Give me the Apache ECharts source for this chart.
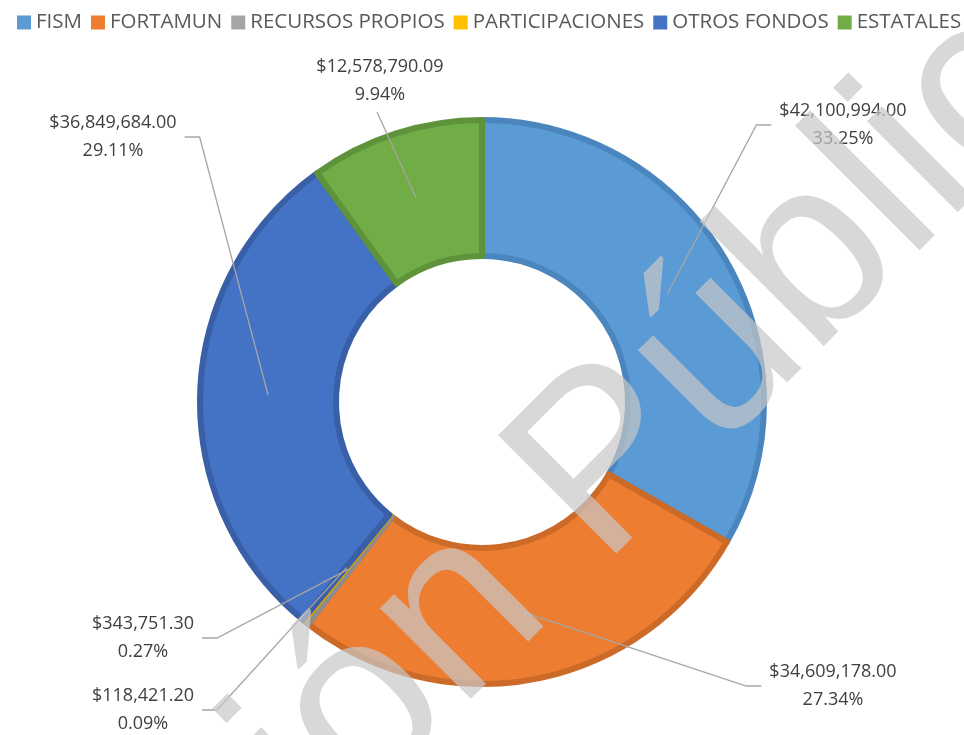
<!DOCTYPE html>
<html><head><meta charset="utf-8">
<script src="https://cdn.jsdelivr.net/npm/echarts@6/dist/echarts.min.js"></script>
<style>html,body{margin:0;padding:0;background:#fff}#c{width:964px;height:735px}</style>
</head><body><div id="c"></div>
<script>
// ---- data ----
const categories = ['FISM', 'FORTAMUN', 'RECURSOS PROPIOS', 'PARTICIPACIONES', 'OTROS FONDOS', 'ESTATALES'];
const values = [42100994.00, 34609178.00, 343751.30, 118421.20, 36849684.00, 12578790.09];
const watermarkText = 'Información Pública';

// ---- styles / layout ----
const fillColors = ['#5B9BD5', '#ED7D31', '#A5A5A5', '#FFC000', '#4472C4', '#70AD47'];
const borderColors = ['#4A86BD', '#CC6A27', '#8C8C8C', '#D9A300', '#395FA6', '#5E933B'];
const labelCenters = [[843, 125], [833, 686], [143, 638], [143, 710], [113, 137], [380, 81]];
const labelSides = ['left', 'left', 'right', 'right', 'right', 'bottom'];
const CX = 482, CY = 402, R_IN = 143, R_OUT = 285, BW = 6;
const R_MID = (R_IN + R_OUT) / 2;

const total = values.reduce((a, b) => a + b, 0);
const midAngles = [];
{ let acc = 0; values.forEach(v => { midAngles.push((acc + v / 2) / total * 2 * Math.PI); acc += v; }); }

function money(v) {
  return '$' + v.toLocaleString('en-US', { minimumFractionDigits: 2, maximumFractionDigits: 2 });
}

const pieCommon = {
  type: 'pie',
  center: [CX, CY],
  radius: [R_IN + BW / 2, R_OUT - BW / 2],
  startAngle: 90,
  clockwise: true,
  avoidLabelOverlap: false,
  emphasis: { disabled: true }
};

const chart = echarts.init(document.getElementById('c'), null, { renderer: 'canvas' });
chart.setOption({
  animation: false,
  backgroundColor: '#ffffff',
  legend: {
    data: categories,
    left: 12, top: 7, width: 952,
    icon: 'rect', itemWidth: 14, itemHeight: 14, itemGap: 9,
    itemStyle: { borderWidth: 0 },
    textStyle: { fontFamily: 'Open Sans', fontSize: 20.5, color: '#595959' },
    selectedMode: false
  },
  graphic: [{
    type: 'text', x: 364, y: 711, rotation: Math.PI / 4, z: 100, silent: true,
    style: {
      text: watermarkText, fontFamily: 'Liberation Sans', fontSize: 243,
      fill: 'rgba(200,200,200,0.7)', align: 'center', verticalAlign: 'middle'
    }
  }],
  series: [
    Object.assign({}, pieCommon, {
      z: 2,
      data: categories.map((name, i) => ({
        name, value: values[i],
        itemStyle: { color: fillColors[i], borderColor: borderColors[i], borderWidth: BW }
      })),
      label: { show: false },
      labelLine: { show: false }
    }),
    Object.assign({}, pieCommon, {
      z: 3,
      silent: true,
      data: categories.map((name, i) => ({
        name, value: values[i],
        itemStyle: { color: 'rgba(0,0,0,0)', borderWidth: 0 }
      })),
      label: {
        show: true, position: 'outside',
        fontFamily: 'Open Sans', fontSize: 18, lineHeight: 28, color: '#404040', align: 'center',
        formatter: p => money(values[p.dataIndex]) + '\n' + (values[p.dataIndex] / total * 100).toFixed(2) + '%'
      },
      labelLine: { show: true, lineStyle: { color: '#A6A6A6', width: 1.3 } },
      labelLayout: function (params) {
        const i = params.dataIndex;
        const [lx, ly] = labelCenters[i];
        const w = params.labelRect.width, h = params.labelRect.height;
        const a = midAngles[i];
        const anchor = [CX + R_MID * Math.sin(a), CY - R_MID * Math.cos(a)];
        let end, elbow;
        if (labelSides[i] === 'right') {
          end = [lx + w / 2 + 8, ly]; elbow = [end[0] + 15, ly];
        } else if (labelSides[i] === 'left') {
          end = [lx - w / 2 - 8, ly]; elbow = [end[0] - 15, ly];
        } else {
          end = [lx - 3, ly + h / 2 + 3]; elbow = end.slice();
        }
        return { x: lx, y: ly, align: 'center', verticalAlign: 'middle', labelLinePoints: [anchor, elbow, end] };
      }
    })
  ]
});
</script>
</body></html>
